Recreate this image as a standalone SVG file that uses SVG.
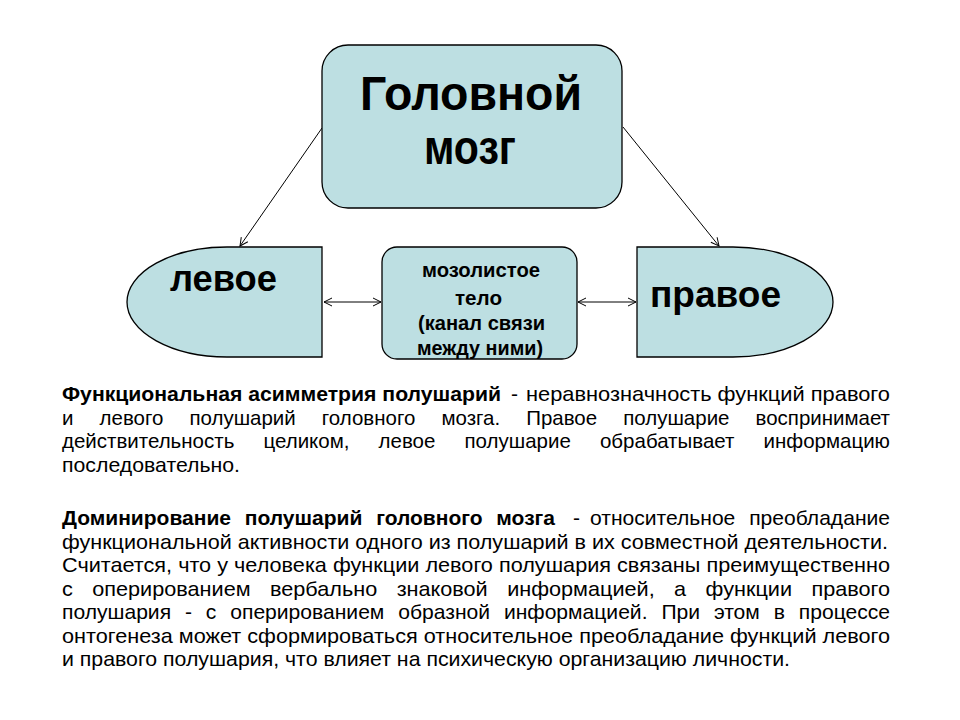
<svg xmlns="http://www.w3.org/2000/svg" width="960" height="720" viewBox="0 0 960 720">
<style>
.node{fill:#BDDFE2;stroke:#000;stroke-width:1.3}
.b{font-family:"Liberation Sans",Arial,sans-serif;font-weight:bold;fill:#000}
.p{font-family:"Liberation Sans",Arial,sans-serif;font-size:21px;fill:#000}
.pb{font-family:"Liberation Sans",Arial,sans-serif;font-size:21px;font-weight:bold;fill:#000}
.c{fill:none;stroke:#000;stroke-width:1}
</style>
<defs>
<marker id="ah" markerUnits="userSpaceOnUse" markerWidth="12" markerHeight="12" refX="9" refY="5" orient="auto-start-reverse" viewBox="0 0 12 10">
<path d="M1,1 L9,5 L1,9" fill="none" stroke="#000" stroke-width="1"/>
</marker>
</defs>
<rect width="960" height="720" fill="#fff"/>
<g id="connectors">
<line class="c" x1="322" y1="128" x2="240" y2="246" marker-end="url(#ah)"/>
<line class="c" x1="623" y1="127" x2="719" y2="246" marker-end="url(#ah)"/>
<line class="c" x1="324" y1="302" x2="381" y2="302" marker-start="url(#ah)" marker-end="url(#ah)"/>
<line class="c" x1="578" y1="302" x2="636" y2="302" marker-start="url(#ah)" marker-end="url(#ah)"/>
</g>
<g id="brain">
<rect class="node" x="322" y="45" width="300" height="163" rx="26"/>
<text class="b" x="360" y="110" font-size="48" textLength="222" lengthAdjust="spacingAndGlyphs">Головной</text>
<text class="b" x="424" y="164" font-size="48" textLength="92" lengthAdjust="spacingAndGlyphs">мозг</text>
</g>
<g id="left">
<path class="node" d="M322,247 H227 A100,55 0 0 0 227,357 H322 Z"/>
<text class="b" x="170" y="291" font-size="36" textLength="107" lengthAdjust="spacingAndGlyphs">левое</text>
</g>
<g id="corpus">
<rect class="node" x="382" y="247" width="195" height="112" rx="15"/>
<text class="b" x="422" y="277" font-size="21" textLength="118" lengthAdjust="spacingAndGlyphs">мозолистое</text>
<text class="b" x="455" y="305" font-size="21" textLength="47" lengthAdjust="spacingAndGlyphs">тело</text>
<text class="b" x="418" y="330" font-size="21" textLength="127" lengthAdjust="spacingAndGlyphs">(канал связи</text>
<text class="b" x="417" y="355" font-size="21" textLength="126" lengthAdjust="spacingAndGlyphs">между ними)</text>
</g>
<g id="right">
<path class="node" d="M637,247 H733 A100,55 0 0 1 733,357 H637 Z"/>
<text class="b" x="650" y="307" font-size="36" textLength="131" lengthAdjust="spacingAndGlyphs">правое</text>
</g>
<g id="text1">
<text class="pb" x="62" y="401" textLength="439" lengthAdjust="spacingAndGlyphs">Функциональная асимметрия полушарий</text>
<text class="p" x="511" y="401">-</text>
<text class="p" x="526" y="401" textLength="364" lengthAdjust="spacingAndGlyphs">неравнозначность функций правого</text>
<text class="p" x="62" y="424.5" word-spacing="21" textLength="828" lengthAdjust="spacingAndGlyphs">и левого полушарий головного мозга. Правое полушарие воспринимает</text>
<text class="p" x="62" y="448" word-spacing="24" textLength="828" lengthAdjust="spacingAndGlyphs">действительность целиком, левое полушарие обрабатывает информацию</text>
<text class="p" x="62" y="471.5" textLength="178" lengthAdjust="spacingAndGlyphs">последовательно.</text>
</g>
<g id="text2">
<text class="pb" x="62" y="525" word-spacing="8" textLength="493" lengthAdjust="spacingAndGlyphs">Доминирование полушарий головного мозга</text>
<text class="p" x="573" y="525">-</text>
<text class="p" x="590" y="525" word-spacing="8" textLength="300" lengthAdjust="spacingAndGlyphs">относительное преобладание</text>
<text class="p" x="62" y="548.5" textLength="826" lengthAdjust="spacingAndGlyphs">функциональной активности одного из полушарий в их совместной деятельности.</text>
<text class="p" x="62" y="572" textLength="828" lengthAdjust="spacingAndGlyphs">Считается, что у человека функции левого полушария связаны преимущественно</text>
<text class="p" x="62" y="595.5" word-spacing="13" textLength="828" lengthAdjust="spacingAndGlyphs">с оперированием вербально знаковой информацией, а функции правого</text>
<text class="p" x="62" y="619" word-spacing="8" textLength="828" lengthAdjust="spacingAndGlyphs">полушария - с оперированием образной информацией. При этом в процессе</text>
<text class="p" x="62" y="642.5" textLength="828" lengthAdjust="spacingAndGlyphs">онтогенеза может сформироваться относительное преобладание функций левого</text>
<text class="p" x="62" y="666" textLength="728" lengthAdjust="spacingAndGlyphs">и правого полушария, что влияет на психическую организацию личности.</text>
</g>
</svg>
